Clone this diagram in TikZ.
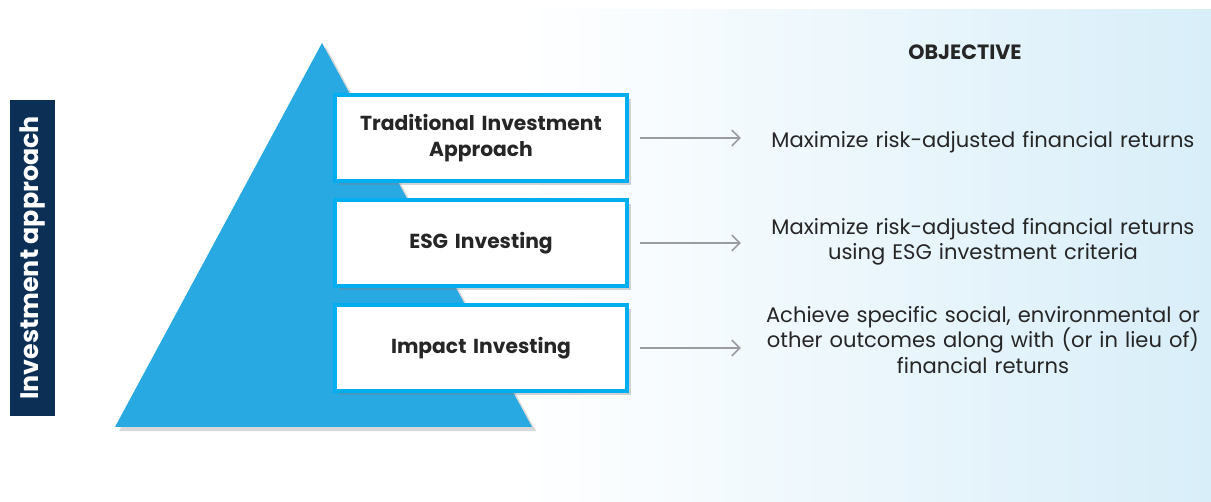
\documentclass[tikz,border=0pt]{standalone}
\usepackage{fontspec}
\setmainfont{Poppins}
\usetikzlibrary{positioning,arrows.meta,shadows}

\definecolor{pyrblue}{HTML}{29A9E1}
\definecolor{boxcyan}{HTML}{00AEEF}
\definecolor{navy}{HTML}{0C2F55}
\definecolor{bgblue}{HTML}{D8EEF9}
\definecolor{arrowgray}{HTML}{9A9CA0}

\begin{document}
\begin{tikzpicture}[x=0.75pt,y=-0.75pt]
    \useasboundingbox (0,0) rectangle (1211,502);
    % background
    \shade[left color=white, right color=bgblue] (520,10) rectangle (1211,502);
    \begin{scope}[node distance=11.25pt,
        mybox/.style={rectangle, draw=boxcyan, line width=3pt, fill=white, minimum width=219pt, minimum height=64.5pt, text width=212pt, align=center, font=\fontsize{15.2}{19}\selectfont\bfseries, text=black!85, drop shadow={shadow xshift=3pt, shadow yshift=-3pt, opacity=.35}},
        myobj/.style={text width=340pt, align=center, font=\fontsize{15.8}{19}\selectfont, text=black!85},
        mylabel/.style={rectangle, fill=navy, text=white, rotate=90, minimum width=237pt, minimum height=33.75pt, font=\fontsize{19}{21}\selectfont\bfseries},
        myarrow/.style={draw=arrowgray, line width=1.2pt, -{Straight Barb[length=6pt, width=12pt]}}]
    % left label
    \node [mylabel] (axis) at (32.5,258) {Investment approach};
    % pyramid
    \fill [pyrblue, drop shadow={shadow xshift=3pt, shadow yshift=-3pt, opacity=.3}] (322,43) -- (532,427) -- (115,427) -- cycle;
    % boxes
    \node [mybox] (tradbox) at (481,138) {Traditional Investment\\Approach};
    \node [mybox, below=of tradbox] (esgbox) {ESG Investing};
    \node [mybox, below=of esgbox] (impbox) {Impact Investing};
    % objectives
    \node [myobj, font=\fontsize{15.5}{18}\selectfont\bfseries] (objhead) at (965,52) {OBJECTIVE};
    \node [myobj] (obj1) at (983,142) {Maximize risk-adjusted financial returns};
    \node [myobj] (obj2) at (983,242) {Maximize risk-adjusted financial returns\\using ESG investment criteria};
    \node [myobj] (obj3) at (983,340) {Achieve specific social, environmental or\\other outcomes along with (or in lieu of)\\financial returns};
    % arrows
    \draw [myarrow, shorten <=8pt, shorten >=8pt] (tradbox.east) -- (tradbox.east -| obj1.west);
    \draw [myarrow, shorten <=8pt, shorten >=8pt] (esgbox.east) -- (esgbox.east -| obj2.west);
    \draw [myarrow, shorten <=8pt, shorten >=8pt] (impbox.east) -- (impbox.east -| obj3.west);
    \end{scope}
\end{tikzpicture}
\end{document}
